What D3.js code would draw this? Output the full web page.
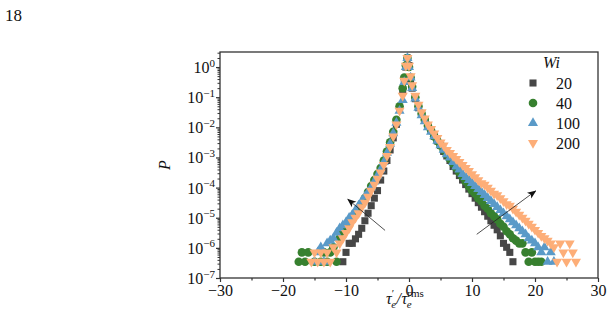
<!DOCTYPE html>
<html>
<head>
<meta charset="utf-8">
<script src="https://cdn.jsdelivr.net/npm/d3@7"></script>
<style>
  body { margin: 0; background: #ffffff; }
  svg, svg text { font-family: "Liberation Serif", "Times New Roman", serif; fill: #111111; }
</style>
</head>
<body>
<div id="chart"></div>
<script>

// series: x = tau'_e / tau_e^rms, values are log10(P)
var wi20X = [-10.5,-10,-9.5,-9,-8.5,-8,-7.5,-7,-6.5,-6,-5.5,-5,-4.5,-4,-3.5,-3,-2.5,-2,-1.5,-1,
    -0.75,-0.5,-0.25,0,0.25,0.5,
    1,1.5,2,2.5,3,3.5,4,4.5,5,5.5,6,6.5,7,7.5,8,8.5,9,9.5,10,10.5,11,11.5,12,12.5,13,13.5,14,14.5,15,15.5,16,16.5];
var wi20LogP = [-6.46,-6.15,-5.85,-5.85,-5.7,-5.55,-5.35,-5.1,-4.85,-4.6,-4.35,-4.1,-3.75,-3.45,-3.1,-2.75,-2.35,-1.9,-1.4,-0.8,
    -0.4,0.0,0.3,0.05,-0.4,-0.7,
    -1.05,-1.35,-1.55,-1.75,-1.95,-2.1,-2.3,-2.45,-2.6,-2.8,-2.95,-3.1,-3.3,-3.45,-3.6,-3.75,-3.9,-4.05,-4.2,-4.35,-4.5,-4.65,-4.8,-4.95,-5.1,-5.25,-5.4,-5.6,-5.85,-5.98,-6.15,-6.46];

var wi40X = [-17.5,-17,-16.5,-16,-15,-14,-13.5,-13,-12.5,-12,-11.5,
    -11,-10.5,-10,-9.5,-9,-8.5,-8,-7.5,-7,-6.5,-6,-5.5,-5,-4.5,-4,-3.5,-3,-2.5,-2,-1.5,-1,
    -0.75,-0.5,-0.25,0,0.25,0.5,
    1,1.5,2,2.5,3,3.5,4,4.5,5,5.5,6,6.5,7,7.5,8,8.5,9,9.5,10,10.5,11,11.5,12,12.5,13,13.5,14,14.5,15,15.5,16,16.5,17,17.5,18,18.5,19,19.5,20,20.5,21];
var wi40LogP = [-6.46,-6.15,-6.46,-6.15,-6.46,-6.46,-6.15,-6.46,-6.15,-5.98,-6.46,
    -5.68,-5.45,-5.25,-5.1,-5.0,-4.85,-4.7,-4.55,-4.35,-4.15,-3.95,-3.75,-3.55,-3.35,-3.1,-2.8,-2.5,-2.15,-1.75,-1.3,-0.7,
    -0.35,0.05,0.3,0.0,-0.35,-0.65,
    -1.0,-1.3,-1.55,-1.75,-1.95,-2.1,-2.3,-2.45,-2.6,-2.75,-2.9,-3.05,-3.2,-3.35,-3.5,-3.65,-3.8,-3.95,-4.1,-4.2,-4.35,-4.45,-4.6,-4.7,-4.85,-4.95,-5.05,-5.2,-5.3,-5.45,-5.55,-5.68,-5.76,-5.85,-5.85,-6.15,-6.46,-6.15,-6.46,-6.46,-6.46];

var wi100X = [-15,-14.5,-14,-13.5,-13,-12.5,-12,-11.5,-11,-10.5,-10,-9.5,-9,-8.5,-8,-7.5,-7,-6.5,-6,-5.5,-5,-4.5,-4,-3.5,-3,-2.5,-2,-1.5,-1,
    -0.75,-0.5,-0.25,0,0.25,0.5,
    1,1.5,2,2.5,3,3.5,4,4.5,5,5.5,6,6.5,7,7.5,8,8.5,9,9.5,10,10.5,11,11.5,12,12.5,13,13.5,14,14.5,15,15.5,16,16.5,17,17.5,18,18.5,19,19.5,20,20.5,21,21.5,22,22.5,23];
var wi100LogP = [-6.46,-6.15,-5.98,-6.46,-5.85,-5.76,-5.68,-5.5,-5.35,-5.25,-5.15,-5.0,-4.9,-4.75,-4.6,-4.45,-4.3,-4.15,-4.0,-3.8,-3.6,-3.4,-3.15,-2.85,-2.55,-2.2,-1.85,-1.45,-1.1,
    -0.5,0.0,0.3,0.0,-0.35,-0.7,
    -1.05,-1.35,-1.6,-1.8,-2.0,-2.15,-2.3,-2.45,-2.6,-2.75,-2.9,-3.0,-3.15,-3.3,-3.4,-3.55,-3.65,-3.75,-3.85,-3.95,-4.05,-4.15,-4.25,-4.35,-4.45,-4.55,-4.65,-4.75,-4.85,-4.95,-5.05,-5.15,-5.25,-5.35,-5.45,-5.55,-5.68,-5.76,-5.85,-5.98,-6.15,-5.98,-6.46,-6.15,-6.46];

var wi200X = [-15.5,-15,-14.5,-14,-13.5,-13,-12.5,-12,-11.5,-11,-10.5,-10,-9.5,-9,-8.5,-8,-7.5,-7,-6.5,-6,-5.5,-5,-4.5,-4,-3.5,-3,-2.5,-2,-1.5,-1,
    -0.75,-0.5,-0.25,0,0.25,0.5,
    1,1.5,2,2.5,3,3.5,4,4.5,5,5.5,6,6.5,7,7.5,8,8.5,9,9.5,10,10.5,11,11.5,12,12.5,13,13.5,14,14.5,15,15.5,16,16.5,17,17.5,18,18.5,19,19.5,20,20.5,21,21.5,22,22.5,23,23.5,24,24.5,25,25.5,26,26.5];
var wi200LogP = [-6.46,-6.15,-6.46,-6.15,-6.46,-6.15,-6.46,-5.98,-6.15,-5.85,-5.68,-5.5,-5.35,-5.15,-5.0,-4.85,-4.65,-4.5,-4.3,-4.1,-3.9,-3.7,-3.5,-3.25,-2.95,-2.65,-2.3,-1.9,-1.45,-0.95,
    -0.45,0.05,0.3,0.05,-0.3,-0.6,
    -0.95,-1.25,-1.5,-1.7,-1.9,-2.05,-2.2,-2.35,-2.5,-2.6,-2.75,-2.85,-2.95,-3.05,-3.15,-3.25,-3.35,-3.45,-3.55,-3.65,-3.75,-3.85,-3.9,-4.0,-4.1,-4.2,-4.25,-4.35,-4.45,-4.55,-4.6,-4.7,-4.8,-4.9,-5.0,-5.1,-5.2,-5.3,-5.4,-5.5,-5.6,-5.68,-5.76,-5.85,-5.98,-6.46,-5.85,-6.15,-6.46,-5.85,-6.15,-6.46];

var legendLabels = ['20', '40', '100', '200'];
var xTicks = [-30, -20, -10, 0, 10, 20, 30];
var xMinorTicks = [-25, -15, -5, 5, 15, 25];
var yTickExps = [0, -1, -2, -3, -4, -5, -6, -7];

// arrows: [x1, log10 y1, x2, log10 y2], tail -> head
var arrowLeft = [-3.8, -5.42, -9.7, -4.39];
var arrowRight = [10.75, -5.55, 20.1, -4.11];

var width = 613;
var height = 326;

var plot_left = 220;
var plot_right = 598;
var plot_top = 52;
var plot_bottom = 278;

var colors = ['#474747', '#37802f', '#5a9ac8', '#fdae78'];
var shapes = ['square', 'circle', 'up', 'down'];

var x = d3.scaleLinear().domain([-30, 30]).range([plot_left, plot_right]);
var y = d3.scaleLog().domain([1e-7, Math.pow(10, 0.5)]).range([plot_bottom, plot_top]);

var svg = d3.select('#chart')
  .append('svg')
    .attr('width', width)
    .attr('height', height);

// page number
svg.append('text')
    .attr('x', 5)
    .attr('y', 21)
    .attr('font-size', '17px')
    .text('18');

function symbolPath(shape) {
    if(shape == 'square') return d3.symbol().type(d3.symbolSquare).size(50)();
    if(shape == 'circle') return d3.symbol().type(d3.symbolCircle).size(58)();
    return d3.symbol().type(d3.symbolTriangle).size(44)();
}

function markerTransform(shape, px, py) {
    if(shape == 'down') return 'translate(' + px + ',' + py + ') rotate(180)';
    return 'translate(' + px + ',' + py + ')';
}

var series = [
    {xs: wi20X, ys: wi20LogP},
    {xs: wi40X, ys: wi40LogP},
    {xs: wi100X, ys: wi100LogP},
    {xs: wi200X, ys: wi200LogP}
];

// markers
var marks = svg.append('g');
series.forEach(function(s, si) {
    var pts = s.xs.map(function(d, i) { return [d, Math.pow(10, s.ys[i])]; });
    marks.append('g')
        .selectAll('path')
        .data(pts)
      .enter()
        .append('path')
        .attr('d', symbolPath(shapes[si]))
        .attr('fill', colors[si])
        .attr('transform', function(d) {
            return markerTransform(shapes[si], x(d[0]), y(d[1]));
        });
});

// arrows
var defs = svg.append('defs');
defs.append('marker')
    .attr('id', 'head')
    .attr('viewBox', '0 0 10 10')
    .attr('refX', 9)
    .attr('refY', 5)
    .attr('markerWidth', 9)
    .attr('markerHeight', 9)
    .attr('markerUnits', 'userSpaceOnUse')
    .attr('orient', 'auto')
  .append('path')
    .attr('d', 'M0,1 L10,5 L0,9 L2.5,5 Z')
    .attr('fill', '#111');

[arrowLeft, arrowRight].forEach(function(a) {
    svg.append('line')
        .attr('x1', x(a[0]))
        .attr('y1', y(Math.pow(10, a[1])))
        .attr('x2', x(a[2]))
        .attr('y2', y(Math.pow(10, a[3])))
        .attr('stroke', '#222')
        .attr('stroke-width', 0.8)
        .attr('marker-end', 'url(#head)');
});

// frame
svg.append('rect')
    .attr('x', plot_left)
    .attr('y', plot_top)
    .attr('width', plot_right - plot_left)
    .attr('height', plot_bottom - plot_top)
    .attr('fill', 'none')
    .attr('stroke', '#333')
    .attr('stroke-width', 1.3);

// x axis
var xAxis = svg.append('g')
    .attr('transform', 'translate(0,' + plot_bottom + ')')
    .call(d3.axisBottom(x).tickValues(xTicks).tickSize(4).tickSizeOuter(0)
        .tickFormat(function(d) { return d < 0 ? '\u2212' + Math.abs(d) : d; }));
xAxis.attr('font-family', null);
xAxis.select('.domain').remove();
xAxis.selectAll('line').attr('stroke', '#333').attr('stroke-width', 1.2);
xAxis.selectAll('text')
    .attr('font-size', '16px')
    .attr('fill', '#111');

svg.append('g')
    .attr('transform', 'translate(0,' + plot_bottom + ')')
    .call(d3.axisBottom(x).tickValues(xMinorTicks).tickSize(2.5).tickFormat(''))
    .call(function(g) { g.select('.domain').remove(); })
    .selectAll('line').attr('stroke', '#333').attr('stroke-width', 1.2);

// y axis, major + log minor
var yMinor = [];
yTickExps.forEach(function(e) {
    if(e == 0) return;
    for(var m = 2; m <= 9; m++) yMinor.push(m * Math.pow(10, e));
});
yMinor.push(2, 3);

svg.append('g')
    .attr('transform', 'translate(' + plot_left + ',0)')
    .call(d3.axisLeft(y).tickValues(yMinor).tickSize(2.5).tickFormat(''))
    .call(function(g) { g.select('.domain').remove(); })
    .selectAll('line').attr('stroke', '#333').attr('stroke-width', 1);

var yAxis = svg.append('g')
    .attr('transform', 'translate(' + plot_left + ',0)')
    .call(d3.axisLeft(y).tickValues(yTickExps.map(function(e) { return Math.pow(10, e); }))
        .tickSize(4).tickFormat(''));
yAxis.select('.domain').remove();
yAxis.selectAll('line').attr('stroke', '#333').attr('stroke-width', 1.2);

yTickExps.forEach(function(e) {
    var t = svg.append('text')
        .attr('x', plot_left - 5)
        .attr('y', y(Math.pow(10, e)) + 6)
        .attr('text-anchor', 'end')
        .attr('font-size', '16px');
    t.append('tspan').text('10');
    t.append('tspan')
        .attr('font-size', '11px')
        .attr('dy', -6.5)
        .text(e < 0 ? '\u2212' + Math.abs(e) : String(e));
});

// axis titles
svg.append('text')
    .attr('transform', 'translate(170,165) rotate(-90)')
    .attr('text-anchor', 'middle')
    .attr('font-size', '16px')
    .attr('font-style', 'italic')
    .text('P');

// tau'_e / tau_e^rms as one text with stacked sub/superscripts
var xl = svg.append('text')
    .attr('x', 386)
    .attr('y', 304)
    .attr('font-size', '16px');
xl.append('tspan').attr('font-style', 'italic').text('\u03c4');
xl.append('tspan').attr('font-size', '11px').attr('dy', -7).text('\u2032');
xl.append('tspan').attr('font-size', '11px').attr('font-style', 'italic').attr('dx', -3).attr('dy', 11).text('e');
xl.append('tspan').attr('font-style', 'italic').attr('dx', 0.5).attr('dy', -4).text('/');
xl.append('tspan').attr('font-style', 'italic').attr('dx', 0.5).text('\u03c4');
xl.append('tspan').attr('font-size', '11px').attr('dy', -7).text('rms');
xl.append('tspan').attr('font-size', '11px').attr('font-style', 'italic').attr('dx', -17).attr('dy', 11).text('e');

// legend
var legend = svg.append('g');
legend.append('text')
    .attr('x', 543)
    .attr('y', 68)
    .attr('font-size', '16px')
    .attr('font-style', 'italic')
    .text('Wi');

legendLabels.forEach(function(lab, i) {
    var ly = 83 + i * 20;
    legend.append('path')
        .attr('d', symbolPath(shapes[i]))
        .attr('fill', colors[i])
        .attr('transform', markerTransform(shapes[i], 533, ly));
    legend.append('text')
        .attr('x', 556)
        .attr('y', ly + 5.5)
        .attr('font-size', '16px')
        .text(lab);
});

</script>
</body>
</html>
